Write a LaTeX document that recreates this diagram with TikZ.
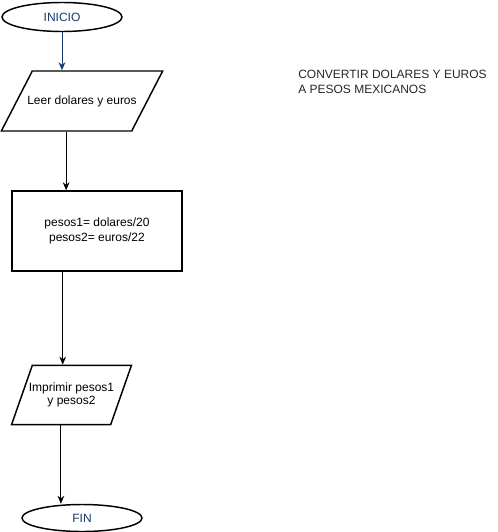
\documentclass[tikz,border=0pt]{standalone}
\usepackage{fontspec}
\setmainfont{Liberation Sans}
\usepackage{tikz}
\usetikzlibrary{shapes.geometric,arrows.meta,calc}

\definecolor{azul}{RGB}{25,55,105}

\tikzset{
  terminal/.style={draw,ellipse,line width=1.1pt,minimum width=120*0.75pt,minimum height=29*0.75pt,inner sep=0pt,text=azul},
  datos/.style={draw,trapezium,trapezium stretches body=true,line width=1.1pt,inner xsep=0pt,align=center},
  proceso/.style={draw,rectangle,line width=1.1pt,minimum width=170*0.75pt,minimum height=80*0.75pt,inner sep=0pt,align=center},
  flecha/.style={-{Stealth[length=6pt,width=5pt]},line width=0.6pt}
}

\begin{document}
\begin{tikzpicture}[x=0.75pt,y=0.75pt,yscale=-1,xscale=1,font=\fontsize{9}{11}\selectfont]
\useasboundingbox (0,0) rectangle (497,532);

\node[terminal] (inicio) at (62,17) {INICIO};
\node[datos,trapezium left angle=62.7,trapezium right angle=117.3,inner xsep=-3.75pt,text height=6.5pt,text depth=2pt,inner ysep=18.25pt] (leer) at (82,101) {Leer dolares y euros};
\node[proceso] (calc) at (97,231) {pesos1= dolares/20\\pesos2= euros/22};
\node[datos,trapezium left angle=70.7,trapezium right angle=109.3,inner xsep=-2.6pt,inner ysep=13pt,font=\fontsize{9}{10}\selectfont] (imp) at (71.5,395) {Imprimir pesos1\\y pesos2};
\node[terminal,minimum height=27*0.75pt] (fin) at (82,518) {FIN};

\node[anchor=north west,align=left,inner sep=0pt,text=black!85] (titulo) at (298,70) {CONVERTIR DOLARES Y EUROS\\A PESOS MEXICANOS};

% conectores
\draw[flecha,azul] (inicio.south) -- (inicio.south |- leer.north);
\draw[flecha] (leer.bottom side) -- (leer.bottom side |- calc.north);
\coordinate (s1) at ($(calc.south west)!0.3!(calc.south east)$);
\draw[flecha] (s1) -- (s1 |- imp.north);
\draw[flecha] (imp.bottom side) -- (imp.bottom side |- fin.north);
\end{tikzpicture}
\end{document}
